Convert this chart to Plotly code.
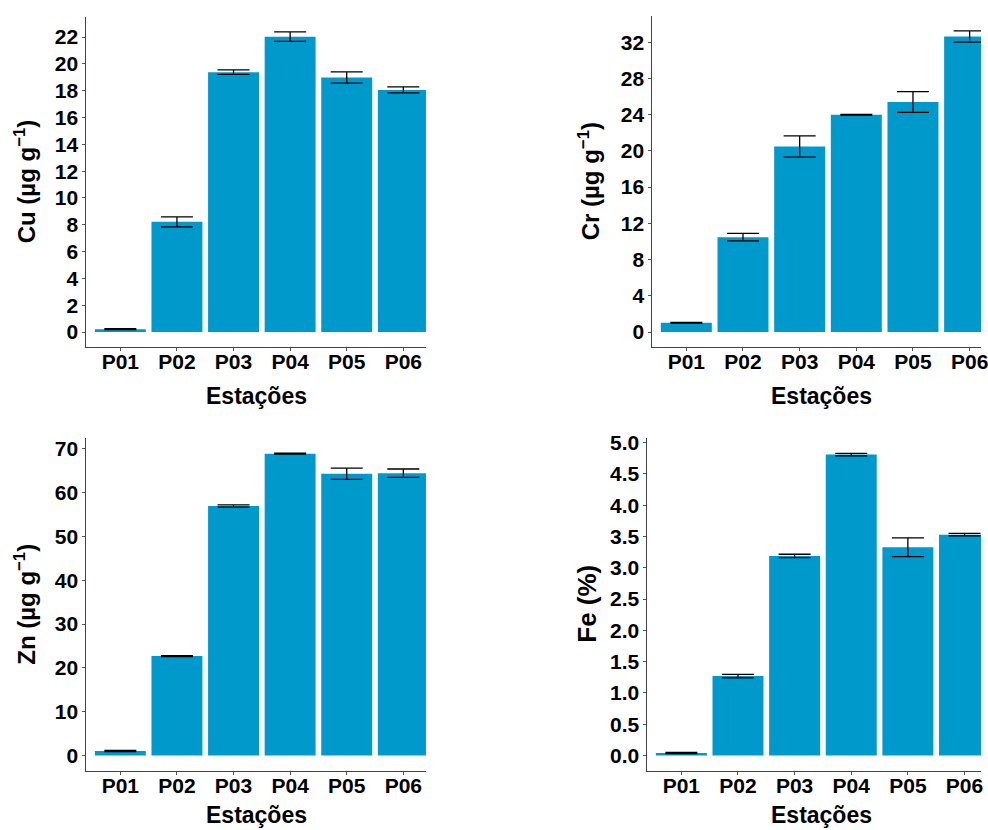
import plotly.graph_objects as go

estacoes = ["P01", "P02", "P03", "P04", "P05", "P06"]

cu_mean = [0.22, 8.22, 19.38, 22.03, 18.98, 18.06]
cu_err = [0.03, 0.37, 0.17, 0.36, 0.42, 0.22]

cr_mean = [1.03, 10.48, 20.48, 24.00, 25.40, 32.62]
cr_err = [0.05, 0.42, 1.17, 0.04, 1.15, 0.62]

zn_mean = [0.99, 22.67, 56.94, 68.90, 64.30, 64.45]
zn_err = [0.15, 0.12, 0.25, 0.12, 1.29, 0.95]

fe_mean = [0.04, 1.27, 3.19, 4.81, 3.33, 3.53]
fe_err = [0.01, 0.027, 0.027, 0.02, 0.15, 0.02]

W, H = 988, 830
BAR = "#0099CC"
FONT = "Liberation Sans, Arial, sans-serif"


def px_x(v):
    return v / W


def px_y(v):
    return 1 - v / H


panels = [
    # (mean, err, ytitle, dtick, fmt, yrange, xdomain px, ydomain px, xmax)
    (cu_mean, cu_err, "Cu (µg g<sup>−1</sup>)", 2, None, [-1.12, 23.5], (87, 429), (10, 343), 5.4),
    (cr_mean, cr_err, "Cr (µg g<sup>−1</sup>)", 4, None, [-1.66, 34.9], (657, 988), (9, 343), 5.4 - 6.2 * (999 - 988) / 342),
    (zn_mean, zn_err, "Zn (µg g<sup>−1</sup>)", 10, None, [-3.45, 72.4], (87, 429), (435, 770), 5.4),
    (fe_mean, fe_err, "Fe (%)", 0.5, ".1f", [-0.24, 5.07], (652, 988), (435, 770), 5.4 - 6.2 * (994 - 988) / 342),
]

title_pos = [
    (25, 176), (593, 176), (25, 602), (591, 602),
]
xtitle_y = [392, 392, 815, 815]

fig = go.Figure()
layout = dict(
    width=W, height=H,
    margin=dict(l=0, r=0, t=0, b=0),
    paper_bgcolor="white", plot_bgcolor="white",
    showlegend=False, bargap=0.1,
    font=dict(family=FONT, color="black"),
)
annotations = []

for i, (mean, err, ytitle, dtick, fmt, yr, xd, yd, xmax) in enumerate(panels):
    n = "" if i == 0 else str(i + 1)
    fig.add_trace(go.Bar(
        x=estacoes, y=mean,
        marker=dict(color=BAR, line=dict(width=0)),
        error_y=dict(type="data", array=err, visible=True, color="black", thickness=1.3, width=16),
        xaxis="x" + n, yaxis="y" + n,
    ))
    layout["xaxis" + n] = dict(
        domain=[px_x(xd[0]), min(1.0, px_x(xd[1]))], anchor="y" + n,
        range=[-0.6, xmax], type="category",
        showline=True, linecolor="#444", linewidth=1,
        ticks="outside", ticklen=3, tickcolor="#555",
        ticklabelstandoff=-7,
        tickfont=dict(size=21, family=FONT, color="black", weight="bold"),
        showgrid=False, zeroline=False, fixedrange=True,
    )
    layout["yaxis" + n] = dict(
        domain=[px_y(yd[1]), px_y(yd[0])], anchor="x" + n,
        range=yr, dtick=dtick, tick0=0, tickformat=fmt,
        showline=True, linecolor="#444", linewidth=1,
        ticks="outside", ticklen=3, tickcolor="#555",
        tickfont=dict(size=21, family=FONT, color="black", weight="bold"),
        showgrid=False, zeroline=False, fixedrange=True,
    )
    # x-axis title
    annotations.append(dict(
        text="<b>Estações</b>", xref="paper", yref="paper",
        x=px_x(258 if xd[0] < 400 else 827), y=px_y(xtitle_y[i]),
        xanchor="center", yanchor="middle", showarrow=False,
        font=dict(size=23, family=FONT, color="black"),
    ))
    tx, ty = title_pos[i]
    annotations.append(dict(
        text="<b>" + ytitle + "</b>", xref="paper", yref="paper",
        x=px_x(tx), y=px_y(ty), textangle=-90,
        xanchor="center", yanchor="middle", showarrow=False,
        font=dict(size=24 if i != 3 else 26, family=FONT, color="black"),
    ))

layout["annotations"] = annotations
fig.update_layout(**layout)

pin = (
    "document.documentElement.style.margin='0';"
    "document.documentElement.style.overflow='hidden';"
    "document.body.style.margin='0';"
    "document.body.style.overflow='hidden';"
    "var gd=document.getElementById('{plot_id}');"
    "gd.style.position='absolute';gd.style.left='0px';gd.style.top='0px';"
)
fig.write_html("out.html", post_script=pin, config={"displayModeBar": False})
